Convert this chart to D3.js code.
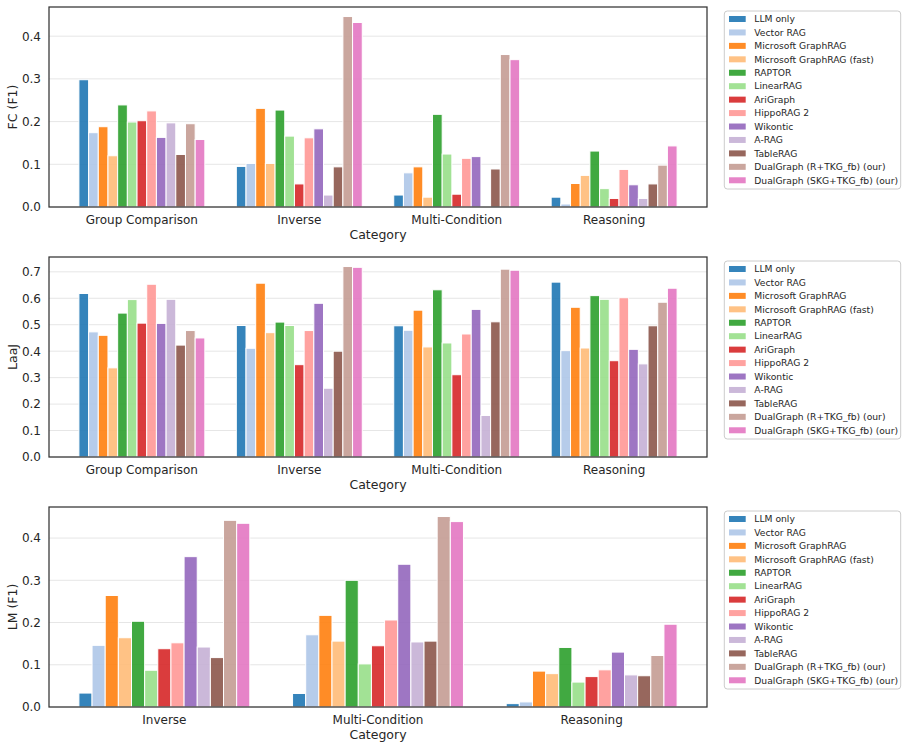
<!DOCTYPE html>
<html>
<head>
<meta charset="utf-8">
<script src="https://cdn.jsdelivr.net/npm/d3@7"></script>
<style>
  body { margin: 0; background: #fff; }
  svg text { font-family: "DejaVu Sans", sans-serif; fill: #262626; }
</style>
</head>
<body>
<svg id="chart"></svg>
<script>
// methods (hue order) and their colours
const methods = ["LLM only", "Vector RAG", "Microsoft GraphRAG", "Microsoft GraphRAG (fast)",
                 "RAPTOR", "LinearRAG", "AriGraph", "HippoRAG 2", "Wikontic", "A-RAG",
                 "TableRAG", "DualGraph (R+TKG_fb) (our)", "DualGraph (SKG+TKG_fb) (our)"];
const colors = ["#1f77b4", "#aec7e8", "#ff7f0e", "#ffbb78", "#2ca02c", "#98df8a", "#d62728",
                "#ff9896", "#9467bd", "#c5b0d5", "#8c564b", "#c49c94", "#e377c2"];

// FC (F1) panel, one array per category, values in method order
const fcCategories = ["Group Comparison", "Inverse", "Multi-Condition", "Reasoning"];
const fcGroupComparison = [0.298, 0.174, 0.188, 0.120, 0.239, 0.199, 0.202, 0.225, 0.163, 0.197, 0.123, 0.195, 0.158];
const fcInverse         = [0.095, 0.102, 0.231, 0.102, 0.227, 0.166, 0.054, 0.162, 0.183, 0.028, 0.094, 0.446, 0.432];
const fcMultiCondition  = [0.028, 0.080, 0.094, 0.023, 0.217, 0.124, 0.030, 0.114, 0.118, 0.000, 0.089, 0.357, 0.345];
const fcReasoning       = [0.023, 0.007, 0.055, 0.074, 0.131, 0.043, 0.020, 0.088, 0.052, 0.020, 0.054, 0.098, 0.143];

// LaaJ panel
const laajCategories = ["Group Comparison", "Inverse", "Multi-Condition", "Reasoning"];
const laajGroupComparison = [0.618, 0.473, 0.460, 0.337, 0.544, 0.595, 0.506, 0.653, 0.505, 0.596, 0.423, 0.478, 0.450];
const laajInverse         = [0.497, 0.411, 0.657, 0.470, 0.510, 0.497, 0.349, 0.478, 0.581, 0.260, 0.400, 0.720, 0.717];
const laajMultiCondition  = [0.496, 0.479, 0.555, 0.416, 0.632, 0.431, 0.311, 0.465, 0.558, 0.157, 0.511, 0.710, 0.706];
const laajReasoning       = [0.661, 0.402, 0.566, 0.412, 0.610, 0.596, 0.364, 0.602, 0.407, 0.352, 0.496, 0.585, 0.638];

// LM (F1) panel
const lmCategories = ["Inverse", "Multi-Condition", "Reasoning"];
const lmInverse        = [0.033, 0.146, 0.264, 0.164, 0.203, 0.087, 0.138, 0.152, 0.356, 0.142, 0.117, 0.442, 0.435];
const lmMultiCondition = [0.032, 0.171, 0.217, 0.156, 0.300, 0.102, 0.145, 0.206, 0.338, 0.154, 0.156, 0.451, 0.439];
const lmReasoning      = [0.008, 0.012, 0.085, 0.079, 0.141, 0.059, 0.072, 0.088, 0.130, 0.076, 0.074, 0.122, 0.196];

const panels = [
  {label: "FC (F1)", cats: fcCategories, values: [fcGroupComparison, fcInverse, fcMultiCondition, fcReasoning], ticks: [0, 0.1, 0.2, 0.3, 0.4]},
  {label: "LaaJ", cats: laajCategories, values: [laajGroupComparison, laajInverse, laajMultiCondition, laajReasoning], ticks: [0, 0.1, 0.2, 0.3, 0.4, 0.5, 0.6, 0.7]},
  {label: "LM (F1)", cats: lmCategories, values: [lmInverse, lmMultiCondition, lmReasoning], ticks: [0, 0.1, 0.2, 0.3, 0.4]}
];

const W = 907, H = 749;
const left = 49, right = 707;
const panelH = 200;
const panelTops = [7, 257, 507];

const svg = d3.select("#chart").attr("width", W).attr("height", H);

const groupWidth = 0.8;
const barW = groupWidth / methods.length;

panels.forEach(function(p, pi){
  const top = panelTops[pi];
  const bottom = top + panelH;
  const n = p.cats.length;

  // matplotlib-like 5% margins around the bars
  const x0 = -groupWidth / 2, x1 = n - 1 + groupWidth / 2;
  const pad = 0.05 * (x1 - x0);
  const xScale = d3.scaleLinear().domain([x0 - pad, x1 + pad]).range([left, right]);

  const maxV = d3.max(p.values, (arr) => d3.max(arr));
  const yScale = d3.scaleLinear().domain([0, maxV * 1.05]).range([bottom, top]);

  const g = svg.append("g");

  // grid
  g.selectAll(".grid")
   .data(p.ticks)
   .enter()
   .append("line")
   .attr("x1", left).attr("x2", right)
   .attr("y1", (d) => yScale(d)).attr("y2", (d) => yScale(d))
   .attr("stroke", "#e6e6e6")
   .attr("stroke-width", 1);

  // bars
  p.values.forEach(function(arr, ci){
    g.selectAll(".bar-" + ci)
     .data(arr)
     .enter()
     .append("rect")
     .attr("x", (d, j) => xScale(ci - groupWidth / 2 + j * barW))
     .attr("width", xScale(barW) - xScale(0))
     .attr("y", (d) => yScale(d))
     .attr("height", (d) => yScale(0) - yScale(d))
     .attr("fill", (d, j) => colors[j])
     .attr("fill-opacity", 0.9)
     .attr("stroke", "#fff")
     .attr("stroke-width", 1);
  });

  // y axis
  const yAxis = d3.axisLeft(yScale)
                  .tickValues(p.ticks)
                  .tickSize(0)
                  .tickPadding(8)
                  .tickFormat(d3.format(".1f"));
  const ya = g.append("g").attr("transform", "translate(" + left + ",0)").call(yAxis);
  ya.select(".domain").remove();
  ya.selectAll("text").style("font-size", "12px").attr("fill", "#262626");

  // x tick labels
  g.selectAll(".xt")
   .data(p.cats)
   .enter()
   .append("text")
   .attr("x", (d, i) => xScale(i))
   .attr("y", bottom + 17.1)
   .attr("text-anchor", "middle")
   .style("font-size", "12px")
   .text((d) => d);

  // axis labels
  g.append("text")
   .attr("x", (left + right) / 2)
   .attr("y", bottom + 32.4)
   .attr("text-anchor", "middle")
   .style("font-size", "12.5px")
   .text("Category");

  g.append("text")
   .attr("transform", "translate(17," + (top + panelH / 2) + ") rotate(-90)")
   .attr("text-anchor", "middle")
   .style("font-size", "12.5px")
   .text(p.label);

  // frame
  g.append("rect")
   .attr("x", left).attr("y", top)
   .attr("width", right - left).attr("height", panelH)
   .attr("fill", "none")
   .attr("stroke", "#333")
   .attr("stroke-width", 1.25);

  // legend
  const lg = g.append("g").attr("transform", "translate(724.3," + (top + 4) + ")");
  lg.append("rect")
    .attr("width", 176.4).attr("height", 178)
    .attr("rx", 3)
    .attr("fill", "#fff")
    .attr("stroke", "#cccccc")
    .attr("stroke-width", 1);
  const items = lg.selectAll(".item")
    .data(methods)
    .enter()
    .append("g")
    .attr("transform", (d, i) => "translate(0," + (8 + 13.44 * i) + ")");
  items.append("rect")
    .attr("x", 4.7).attr("y", -3)
    .attr("width", 16.7).attr("height", 6)
    .attr("fill", (d, i) => colors[i])
    .attr("fill-opacity", 0.9);
  items.append("text")
    .attr("x", 30)
    .attr("dy", "0.35em")
    .style("font-size", "9.2px")
    .text((d) => d);
});
</script>
</body>
</html>
